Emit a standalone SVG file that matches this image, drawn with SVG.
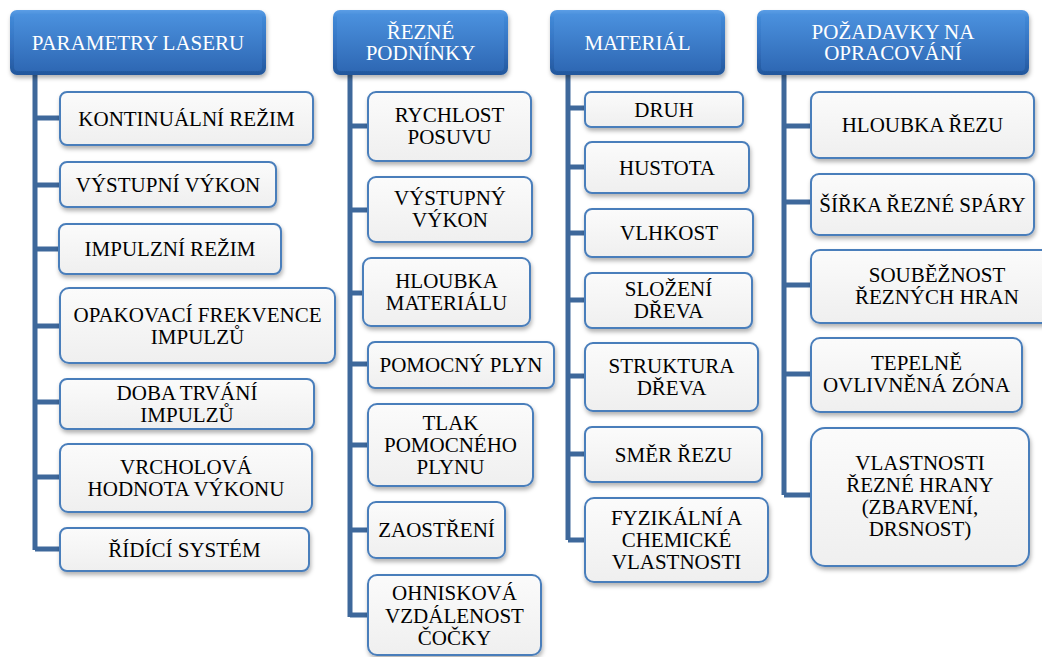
<svg xmlns="http://www.w3.org/2000/svg" width="1042" height="657" viewBox="0 0 1042 657">
<defs>
<linearGradient id="hg" x1="0" y1="0" x2="0" y2="1">
<stop offset="0" stop-color="#5c9ee6"/>
<stop offset="0.12" stop-color="#4088d6"/>
<stop offset="0.6" stop-color="#336fbd"/>
<stop offset="1" stop-color="#22579c"/>
</linearGradient>
<linearGradient id="hi" x1="0" y1="0" x2="0" y2="1">
<stop offset="0" stop-color="#4b91de"/>
<stop offset="1" stop-color="#2e68b4"/>
</linearGradient>
<linearGradient id="cg" x1="0" y1="0" x2="0" y2="1">
<stop offset="0" stop-color="#fbfbfb"/>
<stop offset="1" stop-color="#efefef"/>
</linearGradient>
<filter id="sh" x="-10%" y="-10%" width="120%" height="140%">
<feDropShadow dx="1" dy="3" stdDeviation="2.2" flood-color="#000" flood-opacity="0.3"/>
</filter>
</defs>
<style>
.h rect.o{fill:url(#hg);filter:url(#sh)}
.h rect.i{fill:url(#hi)}
.h text{fill:#fff;text-anchor:middle;font-family:"Liberation Serif","Times New Roman",serif;font-size:21px}
.c rect{fill:url(#cg);stroke:#4a7ebb;stroke-width:2;filter:url(#sh)}
.c text{fill:#000;text-anchor:middle;font-family:"Liberation Serif","Times New Roman",serif;font-size:21px}
#connectors path{fill:none;stroke:#3e689b;stroke-width:5}
</style>
<rect width="1042" height="657" fill="#fff"/>
<g id="connectors">
<path d="M35 75V550M35 118H60M35 185H60M35 249H60M35 326H60M35 402H60M35 477H60M35 549H60"/>
<path d="M350 75V617M350 126H368M350 210H368M350 293H363M350 364H368M350 445H368M350 530H368M350 615H368"/>
<path d="M568 75V540M568 108H585M568 167H585M568 233H585M568 300H585M568 376H585M568 454H585M568 540H585"/>
<path d="M784 75V495M784 126H811M784 202H811M784 285H811M784 374H811M784 495H811"/>
</g>
<g id="h1" class="h"><rect class="o" x="10" y="10" width="256" height="65" rx="7"/><rect class="i" x="14" y="14" width="248" height="57" rx="4"/><text x="138" y="49.5">PARAMETRY LASERU</text></g>
<g id="h2" class="h"><rect class="o" x="333" y="10" width="175" height="65" rx="7"/><rect class="i" x="337" y="14" width="167" height="57" rx="4"/><text x="420.5" y="38.5">ŘEZNÉ</text><text x="420.5" y="60">PODNÍNKY</text></g>
<g id="h3" class="h"><rect class="o" x="550" y="10" width="175" height="65" rx="7"/><rect class="i" x="554" y="14" width="167" height="57" rx="4"/><text x="637.5" y="49.5">MATERIÁL</text></g>
<g id="h4" class="h"><rect class="o" x="757" y="10" width="272" height="65" rx="7"/><rect class="i" x="761" y="14" width="264" height="57" rx="4"/><text x="893" y="38.5">POŽADAVKY NA</text><text x="893" y="60">OPRACOVÁNÍ</text></g>

<g id="n1" class="c"><rect x="60" y="92" width="253" height="53" rx="7"/><text x="186.5" y="125.5">KONTINUÁLNÍ REŽIM</text></g>
<g id="n2" class="c"><rect x="60" y="162" width="216" height="45" rx="7"/><text x="168" y="191.5">VÝSTUPNÍ VÝKON</text></g>
<g id="n3" class="c"><rect x="59" y="224" width="222" height="50" rx="7"/><text x="170" y="256">IMPULZNÍ REŽIM</text></g>
<g id="n4" class="c"><rect x="60" y="288" width="275" height="75" rx="9"/><text x="197.5" y="322">OPAKOVACÍ FREKVENCE</text><text x="197.5" y="344">IMPULZŮ</text></g>
<g id="n5" class="c"><rect x="60" y="379" width="254" height="50" rx="7"/><text x="187" y="400">DOBA TRVÁNÍ</text><text x="187" y="422">IMPULZŮ</text></g>
<g id="n6" class="c"><rect x="60" y="444" width="252" height="68" rx="8"/><text x="186" y="474">VRCHOLOVÁ</text><text x="186" y="496">HODNOTA VÝKONU</text></g>
<g id="n7" class="c"><rect x="60" y="528" width="249" height="43" rx="7"/><text x="184.5" y="556.5">ŘÍDÍCÍ SYSTÉM</text></g>

<g id="n8" class="c"><rect x="368" y="92" width="163" height="69" rx="8"/><text x="449.5" y="122">RYCHLOST</text><text x="449.5" y="143.5">POSUVU</text></g>
<g id="n9" class="c"><rect x="368" y="177" width="164" height="65" rx="8"/><text x="450" y="205">VÝSTUPNÝ</text><text x="450" y="226.5">VÝKON</text></g>
<g id="n10" class="c"><rect x="363" y="258" width="167" height="68" rx="8"/><text x="446.5" y="288">HLOUBKA</text><text x="446.5" y="309.5">MATERIÁLU</text></g>
<g id="n11" class="c"><rect x="368" y="342" width="186" height="46" rx="7"/><text x="461" y="372">POMOCNÝ PLYN</text></g>
<g id="n12" class="c"><rect x="368" y="404" width="165" height="82" rx="9"/><text x="450.5" y="430">TLAK</text><text x="450.5" y="452">POMOCNÉHO</text><text x="450.5" y="474">PLYNU</text></g>
<g id="n13" class="c"><rect x="368" y="502" width="137" height="56" rx="8"/><text x="436.5" y="537">ZAOSTŘENÍ</text></g>
<g id="n14" class="c"><rect x="368" y="575" width="173" height="80" rx="9"/><text x="454.5" y="600">OHNISKOVÁ</text><text x="454.5" y="622.5">VZDÁLENOST</text><text x="454.5" y="645">ČOČKY</text></g>

<g id="n15" class="c"><rect x="585" y="92" width="158" height="35" rx="6"/><text x="664" y="116.5">DRUH</text></g>
<g id="n16" class="c"><rect x="585" y="142" width="164" height="51" rx="7"/><text x="667" y="174.5">HUSTOTA</text></g>
<g id="n17" class="c"><rect x="585" y="209" width="168" height="48" rx="7"/><text x="669" y="240">VLHKOST</text></g>
<g id="n18" class="c"><rect x="585" y="273" width="167" height="55" rx="7"/><text x="668.5" y="296">SLOŽENÍ</text><text x="668.5" y="318">DŘEVA</text></g>
<g id="n19" class="c"><rect x="585" y="343" width="173" height="68" rx="8"/><text x="671.5" y="373">STRUKTURA</text><text x="671.5" y="395">DŘEVA</text></g>
<g id="n20" class="c"><rect x="585" y="427" width="177" height="55" rx="7"/><text x="673.5" y="461.5">SMĚR ŘEZU</text></g>
<g id="n21" class="c"><rect x="585" y="498" width="183" height="84" rx="9"/><text x="676.5" y="525">FYZIKÁLNÍ A</text><text x="676.5" y="547">CHEMICKÉ</text><text x="676.5" y="569">VLASTNOSTI</text></g>

<g id="n22" class="c"><rect x="811" y="92" width="223" height="66" rx="8"/><text x="922.5" y="132">HLOUBKA ŘEZU</text></g>
<g id="n23" class="c"><rect x="811" y="174" width="223" height="61" rx="8"/><text x="922.5" y="211.5">ŠÍŘKA ŘEZNÉ SPÁRY</text></g>
<g id="n24" class="c"><rect x="811" y="250" width="252" height="73" rx="9"/><text x="937" y="282">SOUBĚŽNOST</text><text x="937" y="304">ŘEZNÝCH HRAN</text></g>
<g id="n25" class="c"><rect x="811" y="338" width="211" height="74" rx="9"/><text x="916.5" y="370">TEPELNĚ</text><text x="916.5" y="392">OVLIVNĚNÁ ZÓNA</text></g>
<g id="n26" class="c"><rect x="811" y="428" width="218" height="138" rx="14"/><text x="920" y="470">VLASTNOSTI</text><text x="920" y="492">ŘEZNÉ HRANY</text><text x="920" y="514">(ZBARVENÍ,</text><text x="920" y="536">DRSNOST)</text></g>
</svg>
